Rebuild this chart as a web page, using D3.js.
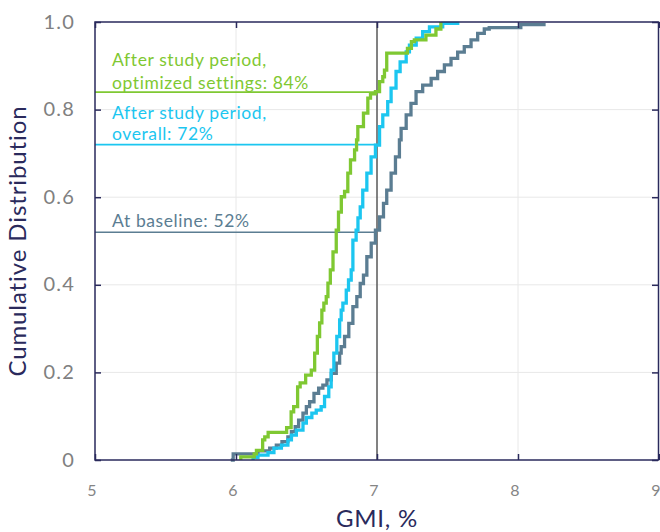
<!DOCTYPE html>
<html>
<head>
<meta charset="utf-8">
<script src="https://cdn.jsdelivr.net/npm/d3@7"></script>
<style>
  html, body { margin: 0; padding: 0; background: #fff; }
  svg { display: block; font-family: Lato, "Open Sans", sans-serif; }
</style>
</head>
<body>
<svg id="chart" width="660" height="532"></svg>
<script>
// ---- Data ----
const xTicks = [5, 6, 7, 8, 9];
const yTicks = [0, 0.2, 0.4, 0.6, 0.8, 1.0];
const yTickLabels = ["0", "0.2", "0.4", "0.6", "0.8", "1.0"];

// step points: [GMI %, cumulative fraction after the step]
const baselineGMI = [5.963,5.980,6.156,6.239,6.286,6.326,6.368,6.393,6.420,6.444,6.475,6.499,6.522,6.553,6.586,6.616,6.645,6.676,6.711,6.735,6.746,6.770,6.800,6.829,6.857,6.881,6.904,6.928,6.959,6.989,7.018,7.046,7.069,7.100,7.131,7.159,7.171,7.207,7.241,7.277,7.324,7.384,7.430,7.478,7.525,7.572,7.619,7.667,7.714,7.761,7.796,8.020,8.196];
const baselineCDF = [0,0.014,0.021,0.027,0.034,0.042,0.053,0.065,0.076,0.091,0.107,0.122,0.133,0.152,0.164,0.171,0.183,0.198,0.221,0.244,0.259,0.282,0.312,0.350,0.373,0.403,0.422,0.464,0.495,0.525,0.555,0.586,0.616,0.655,0.692,0.731,0.757,0.788,0.814,0.841,0.856,0.871,0.887,0.902,0.917,0.931,0.944,0.959,0.974,0.984,0.987,0.994,0.994];

const overallGMI = [6.121,6.121,6.156,6.227,6.269,6.322,6.368,6.393,6.428,6.475,6.499,6.538,6.569,6.604,6.628,6.658,6.675,6.694,6.715,6.735,6.746,6.758,6.782,6.798,6.817,6.829,6.852,6.865,6.881,6.899,6.928,6.958,6.989,7.018,7.041,7.076,7.100,7.135,7.164,7.207,7.230,7.278,7.324,7.372,7.466,7.584];
const overallCDF = [0,0.006,0.011,0.017,0.027,0.034,0.046,0.057,0.068,0.084,0.097,0.107,0.114,0.122,0.145,0.167,0.205,0.244,0.282,0.320,0.342,0.358,0.388,0.411,0.434,0.502,0.525,0.553,0.578,0.616,0.655,0.692,0.719,0.761,0.788,0.818,0.849,0.887,0.909,0.932,0.947,0.963,0.978,0.989,0.997,0.997];

const optimizedGMI = [6.034,6.034,6.129,6.145,6.189,6.204,6.228,6.359,6.391,6.409,6.437,6.455,6.494,6.534,6.558,6.577,6.593,6.609,6.623,6.640,6.652,6.669,6.688,6.711,6.727,6.747,6.770,6.793,6.812,6.841,6.855,6.864,6.904,6.935,6.954,6.989,7.018,7.041,7.053,7.069,7.216,7.244,7.265,7.347,7.418,7.453];
const optimizedCDF = [0,0.007,0.014,0.022,0.046,0.053,0.063,0.074,0.110,0.122,0.167,0.176,0.194,0.205,0.244,0.282,0.313,0.342,0.358,0.373,0.404,0.434,0.475,0.525,0.566,0.601,0.613,0.655,0.685,0.708,0.731,0.761,0.792,0.826,0.836,0.841,0.864,0.875,0.890,0.929,0.940,0.955,0.959,0.970,0.984,1.0];

const threshold = 7.0;
const seriesNames = ["At baseline", "After study period, overall", "After study period, optimized settings"];
const seriesPct = [0.52, 0.72, 0.84];
const annotationLines = [
  ["At baseline: 52%"],
  ["After study period,", "overall: 72%"],
  ["After study period,", "optimized settings: 84%"]
];
const colors = ["#5b7d92", "#1cc6f0", "#7fc832"];

// ---- Layout ----
const svg = d3.select("#chart");
const m = { left: 95, right: 1, top: 22, bottom: 72 };
const W = 660, H = 532;
const x = d3.scaleLinear().domain([5, 9]).range([m.left, W - m.right]);
const y = d3.scaleLinear().domain([0, 1]).range([H - m.bottom, m.top]);
const navy = "#2a2a5c";

// gridlines
svg.append("g").selectAll("line").data(xTicks.slice(1, -1)).join("line")
  .attr("x1", d => x(d)).attr("x2", d => x(d))
  .attr("y1", y(0)).attr("y2", y(1))
  .attr("stroke", "#e8e8e8").attr("stroke-width", 1);
svg.append("g").selectAll("line").data(yTicks.slice(1, -1)).join("line")
  .attr("x1", x(5)).attr("x2", x(9))
  .attr("y1", d => y(d)).attr("y2", d => y(d))
  .attr("stroke", "#e8e8e8").attr("stroke-width", 1);

// threshold vertical line
svg.append("line")
  .attr("x1", x(threshold)).attr("x2", x(threshold))
  .attr("y1", y(0)).attr("y2", y(1))
  .attr("stroke", "#111").attr("stroke-width", 1);

// annotation horizontal lines
seriesPct.forEach((p, i) => {
  svg.append("line")
    .attr("x1", x(5)).attr("x2", x(threshold))
    .attr("y1", y(p)).attr("y2", y(p))
    .attr("stroke", colors[i]).attr("stroke-width", 1.6);
});

// ECDF step lines
const line = d3.line().x(d => x(d[0])).y(d => y(d[1])).curve(d3.curveStepAfter);
const series = [
  d3.zip(baselineGMI, baselineCDF),
  d3.zip(overallGMI, overallCDF),
  d3.zip(optimizedGMI, optimizedCDF)
];
series.forEach((s, i) => {
  svg.append("path").datum(s)
    .attr("d", line)
    .attr("fill", "none")
    .attr("stroke", colors[i])
    .attr("stroke-width", 3.3)
    .attr("stroke-linejoin", "miter");
});

// frame
svg.append("rect")
  .attr("x", x(5)).attr("y", y(1))
  .attr("width", x(9) - x(5) - 0.5).attr("height", y(0) - y(1))
  .attr("fill", "none").attr("stroke", navy).attr("stroke-width", 1.5);

// axes with inward ticks
const tickLen = 6;
svg.append("g").attr("transform", `translate(0,${y(0)})`)
  .call(d3.axisBottom(x).tickValues(xTicks).tickSize(-tickLen).tickFormat(""))
  .call(g => g.select(".domain").remove())
  .call(g => g.selectAll("line").attr("stroke", navy).attr("stroke-width", 1.5));
svg.append("g").attr("transform", `translate(0,${y(1)})`)
  .call(d3.axisTop(x).tickValues(xTicks).tickSize(-tickLen).tickFormat(""))
  .call(g => g.select(".domain").remove())
  .call(g => g.selectAll("line").attr("stroke", navy).attr("stroke-width", 1.5));
svg.append("g").attr("transform", `translate(${x(5)},0)`)
  .call(d3.axisLeft(y).tickValues(yTicks).tickSize(-tickLen).tickFormat(""))
  .call(g => g.select(".domain").remove())
  .call(g => g.selectAll("line").attr("stroke", navy).attr("stroke-width", 1.5));
svg.append("g").attr("transform", `translate(${x(9) - 1},0)`)
  .call(d3.axisRight(y).tickValues(yTicks).tickSize(-tickLen).tickFormat(""))
  .call(g => g.select(".domain").remove())
  .call(g => g.selectAll("line").attr("stroke", navy).attr("stroke-width", 1.5));

// tick labels
svg.append("g").selectAll("text").data(xTicks).join("text")
  .attr("x", d => x(d) - 3).attr("y", 496)
  .attr("text-anchor", "middle")
  .attr("font-size", 16).attr("fill", "#858585")
  .text(d => d);
svg.append("g").selectAll("text").data(yTicks).join("text")
  .attr("x", 75).attr("y", d => y(d))
  .attr("dy", "0.33em")
  .attr("text-anchor", "end")
  .attr("font-size", 20).attr("letter-spacing", 1.2).attr("fill", "#808080")
  .text((d, i) => yTickLabels[i]);

// axis titles
svg.append("text")
  .attr("x", x(7)).attr("y", 527)
  .attr("text-anchor", "middle")
  .attr("font-size", 24).attr("letter-spacing", 0.8).attr("fill", navy)
  .text("GMI, %");
svg.append("text")
  .attr("transform", `translate(26,${241}) rotate(-90)`)
  .attr("text-anchor", "middle")
  .attr("font-size", 24).attr("letter-spacing", 0.9).attr("fill", navy)
  .text("Cumulative Distribution");

// annotation texts
const textBaselines = [[226.5], [119, 139.5], [66, 88.5]];
annotationLines.forEach((lines, i) => {
  lines.forEach((t, j) => {
    svg.append("text")
      .attr("x", 112).attr("y", textBaselines[i][j])
      .attr("font-size", 17.5).attr("letter-spacing", 0.6).attr("fill", colors[i])
      .text(t);
  });
});
</script>
</body>
</html>
